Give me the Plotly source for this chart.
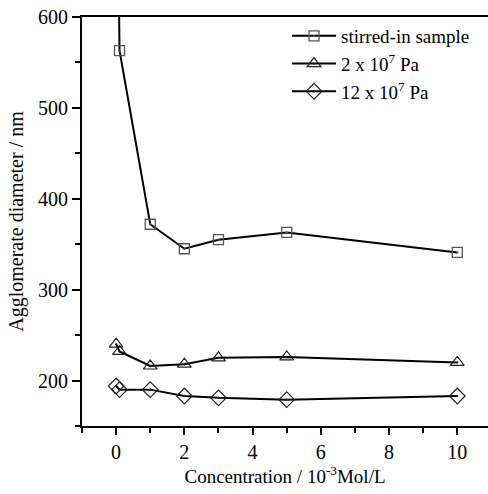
import plotly.graph_objects as go

x_stirred = [0, 0.1, 1, 2, 3, 5, 10]
y_stirred = [900, 563, 372, 345, 355, 363, 341]

x_2e7 = [0, 0.1, 1, 2, 3, 5, 10]
y_2e7 = [240, 232, 216, 218, 225, 226, 220]

x_12e7 = [0, 0.1, 1, 2, 3, 5, 10]
y_12e7 = [194, 190, 190, 183, 181, 179, 183]

names = ["stirred-in sample", "2 x 10<sup>7</sup> Pa", "12 x 10<sup>7</sup> Pa"]

fig = go.Figure()
fig.add_trace(go.Scatter(x=x_stirred, y=y_stirred, mode="lines+markers", name=names[0],
                         line=dict(color="black", width=2),
                         marker=dict(symbol="square-open-dot", size=10, color="#555555",
                                     line=dict(width=1.3, color="#555555"))))
fig.add_trace(go.Scatter(x=x_2e7, y=y_2e7, mode="lines+markers", name=names[1],
                         line=dict(color="black", width=2),
                         marker=dict(symbol="triangle-up-open-dot", size=12, color="#222222",
                                     line=dict(width=1.2, color="#222222"))))
fig.add_trace(go.Scatter(x=x_12e7, y=y_12e7, mode="lines+markers", name=names[2],
                         line=dict(color="black", width=2),
                         marker=dict(symbol="diamond-open-dot", size=12, color="#222222",
                                     line=dict(width=1.2, color="#222222"))))

FAM = "Liberation Serif"
font = dict(family=FAM, size=20, color="black")

fig.update_layout(
    width=488, height=494,
    margin=dict(l=82, r=0, t=17, b=68),
    paper_bgcolor="white", plot_bgcolor="white",
    font=font,
    showlegend=True,
    legend=dict(x=0.505, y=1.0, xanchor="left", yanchor="top",
                bgcolor="rgba(0,0,0,0)", font=dict(family=FAM, size=19, color="black"),
                tracegroupgap=0, itemwidth=44),
    xaxis=dict(range=[-1, 10.9], tickmode="array", tickvals=[0, 2, 4, 6, 8, 10],
               showgrid=False, zeroline=False, showline=True, linecolor="black", linewidth=2,
               mirror=True, ticks="outside", ticklen=7, tickwidth=2, tickcolor="black",
               tickfont=dict(family=FAM, size=20, color="black"),
               minor=dict(dtick=1, ticks="outside", ticklen=5, tickwidth=2, tickcolor="black", showgrid=False),
               title=dict(text="Concentration / 10<sup>-3</sup>Mol/L",
                          font=dict(family=FAM, size=19, color="black"), standoff=4)),
    yaxis=dict(range=[150, 600], tickmode="array", tickvals=[200, 300, 400, 500, 600],
               showgrid=False, zeroline=False, showline=True, linecolor="black", linewidth=2,
               ticks="outside", ticklen=8, tickwidth=2, tickcolor="black",
               tickfont=dict(family=FAM, size=20, color="black"),
               minor=dict(dtick=50, ticks="outside", ticklen=5, tickwidth=2, tickcolor="black", showgrid=False),
               title=dict(text="Agglomerate diameter / nm",
                          font=dict(family=FAM, size=20, color="black"), standoff=9)),
)

fig.write_html("out.html")
